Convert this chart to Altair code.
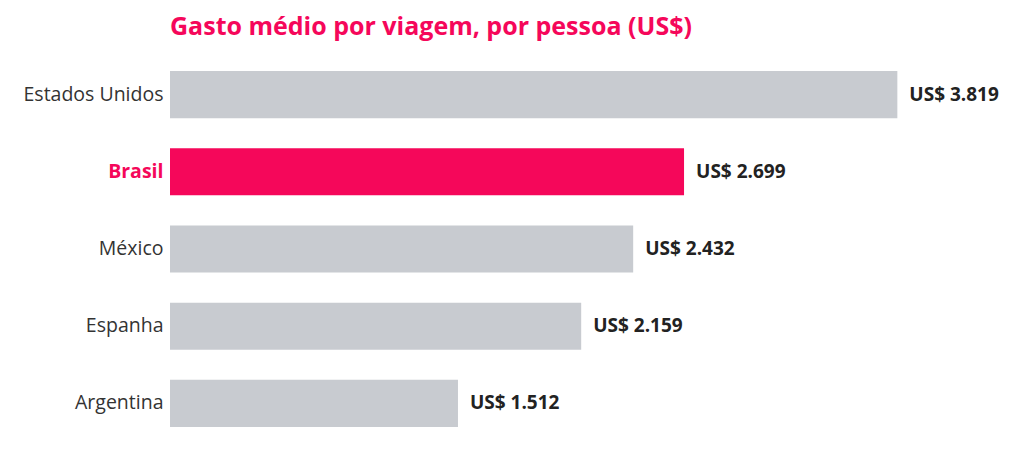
import pandas as pd
import altair as alt

# Data
paises = ['Estados Unidos', 'Brasil', 'México', 'Espanha', 'Argentina']
gastos = [3819, 2699, 2432, 2159, 1512]
rotulos = ['US$ 3.819', 'US$ 2.699', 'US$ 2.432', 'US$ 2.159', 'US$ 1.512']

df = pd.DataFrame({'pais': paises, 'gasto': gastos, 'rotulo': rotulos})
df['destaque'] = df['pais'] == 'Brasil'

FONT = 'Open Sans'
PINK = '#f5075a'
GREY = '#c8cbd0'

y_enc = alt.Y('pais:N', sort=paises, title=None,
              scale=alt.Scale(paddingInner=0.39, paddingOuter=0.195),
              axis=alt.Axis(domain=False, ticks=False, labelPadding=7,
                            labelFont=FONT, labelFontSize=19.5,
                            labelColor=alt.expr("datum.value == 'Brasil' ? '%s' : '#333333'" % PINK),
                            labelFontWeight=alt.expr("datum.value == 'Brasil' ? 'bold' : 'normal'"),
                            labelLimit=300))

bars = alt.Chart(df).mark_bar().encode(
    x=alt.X('gasto:Q', scale=alt.Scale(domain=[0, 4400], nice=False), axis=None),
    y=y_enc,
    color=alt.Color('destaque:N', scale=alt.Scale(domain=[False, True], range=[GREY, PINK]), legend=None),
)

labels = alt.Chart(df).mark_text(
    align='left', baseline='middle', dx=12, font=FONT, fontSize=19,
    fontWeight='bold', color='#222222'
).encode(
    x='gasto:Q',
    y=alt.Y('pais:N', sort=paises),
    text='rotulo:N',
)

chart = (bars + labels).properties(
    width=838,
    height=386,
    padding={'left': 162, 'top': 48, 'right': 0, 'bottom': 0},
    autosize=alt.AutoSizeParams(type='none'),
    title=alt.TitleParams('Gasto médio por viagem, por pessoa (US$)', anchor='start', frame='group',
                          font=FONT, fontSize=25, fontWeight='bold', color=PINK, offset=16),
).configure_view(stroke=None)

chart.save("out.html", embed_options={"renderer": "svg", "actions": False})
